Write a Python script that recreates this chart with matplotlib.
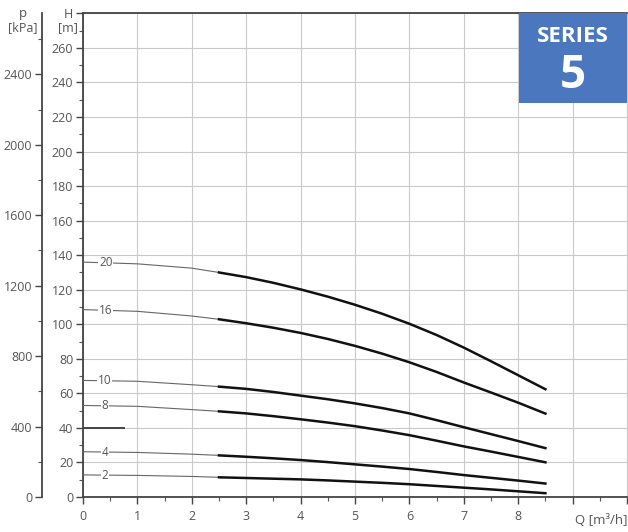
import numpy as np
import matplotlib.pyplot as plt
from matplotlib.ticker import MultipleLocator, FixedLocator
from matplotlib.patches import Rectangle

plt.rcParams['font.family'] = ['Open Sans', 'DejaVu Sans']

# flow points [m3/h] and head [m] per stage count
Q = [0, 1, 2, 2.5, 3, 3.5, 4, 4.5, 5, 5.5, 6, 6.5, 7, 7.5, 8, 8.5]
stages = ["20", "16", "10", "8", "4", "2"]
H20 = [136, 135, 132.5, 130, 127.3, 124, 120.2, 116, 111.3, 106.1, 100.3, 93.8, 86.5, 78.6, 70.5, 62.4]
H16 = [108.5, 107.5, 104.8, 102.9, 100.6, 98, 95, 91.5, 87.5, 83, 78, 72.4, 66.3, 60.5, 54.6, 48.3]
H10 = [67.5, 67, 65, 63.9, 62.6, 60.8, 58.7, 56.6, 54.2, 51.5, 48.4, 44.5, 40.4, 36.4, 32.4, 28.3]
H8 = [53, 52.5, 50.6, 49.6, 48.4, 46.8, 45, 43.1, 41, 38.5, 35.8, 32.6, 29.3, 26.3, 23.2, 20.1]
H4 = [26.2, 25.8, 24.8, 24.1, 23.3, 22.4, 21.4, 20.2, 18.9, 17.6, 16.2, 14.5, 12.7, 11.1, 9.5, 7.8]
H2 = [12.8, 12.5, 11.9, 11.4, 11.0, 10.6, 10.2, 9.6, 8.9, 8.2, 7.4, 6.4, 5.4, 4.4, 3.3, 2.2]
heads = [H20, H16, H10, H8, H4, H2]
label_q = [0.42, 0.42, 0.40, 0.40, 0.40, 0.40]

fig = plt.figure(figsize=(6.28, 5.32), dpi=100)
ax = fig.add_axes([83 / 628, 35 / 532, 544 / 628, (497 - 13.4) / 532])

ax.set_xlim(0, 10)
ax.set_ylim(0, 280)
ax.xaxis.set_major_locator(MultipleLocator(1))
ax.xaxis.set_minor_locator(MultipleLocator(0.5))
ax.yaxis.set_major_locator(MultipleLocator(20))
ax.yaxis.set_minor_locator(MultipleLocator(10))
ax.grid(True, which='major', color='#c9c9c9', lw=0.8)
ax.set_axisbelow(True)

ylabels = [str(v) if v < 280 else 'H' for v in range(0, 281, 20)]
ax.set_yticks(range(0, 281, 20))
ax.set_yticklabels(ylabels)
xlabels = [str(v) if v <= 8 else '' for v in range(0, 11)]
ax.set_xticks(range(0, 11))
ax.set_xticklabels(xlabels)

ax.tick_params(which='major', length=5, width=1, color='#444444',
               labelcolor='#555555', labelsize=9)
ax.tick_params(which='minor', length=3, width=0.8, color='#555555')
ax.tick_params(axis='y', pad=2)
ax.tick_params(axis='x', pad=4)
for s in ['left', 'bottom', 'top']:
    ax.spines[s].set_color('#444444')
    ax.spines[s].set_linewidth(1.3)
ax.spines['right'].set_color('#c9c9c9')
ax.spines['right'].set_linewidth(0.8)

# curves: thin part below 2.5 m3/h, thick part above
for name, h, lq in zip(stages, heads, label_q):
    q = np.array(Q)
    h = np.array(h)
    thin = q <= 2.5
    thick = q >= 2.5
    ax.plot(q[thin], h[thin], color='#666666', lw=0.8, zorder=3)
    ax.plot(q[thick], h[thick], color='#111111', lw=1.8, zorder=3,
            solid_joinstyle='round')
    hy = np.interp(lq, q, h)
    ax.text(lq, hy, name, ha='center', va='center', fontsize=8.5,
            color='#555555', zorder=4,
            bbox=dict(facecolor='white', edgecolor='none', pad=0.6))

ax.plot([0, 0.75], [40, 40], color='#444444', lw=1.4, zorder=3)

fig.text(68 / 628, 1 - 28 / 532, '[m]', ha='center', va='center',
         fontsize=9, color='#555555')
fig.text(575 / 628, 1 - 520 / 532, 'Q [m³/h]', ha='left', va='center',
         fontsize=9.5, color='#555555')

# pressure scale
ax2 = ax.twinx()
ax2.set_ylim(0, 280 * 9.80665)
ax2.yaxis.set_ticks_position('left')
ax2.yaxis.set_label_position('left')
ax2.spines['left'].set_position(('axes', (42 - 83) / 544))
ax2.spines['left'].set_color('#444444')
ax2.spines['left'].set_linewidth(1.3)
for s in ['right', 'top', 'bottom']:
    ax2.spines[s].set_visible(False)
ax2.yaxis.set_major_locator(FixedLocator(range(0, 2401, 400)))
ax2.yaxis.set_minor_locator(MultipleLocator(200))
ax2.tick_params(which='major', length=5, width=1, color='#444444',
                labelcolor='#555555', labelsize=9, pad=2)
ax2.tick_params(which='minor', length=3, width=0.8, color='#555555')
fig.text(23 / 628, 1 - 14 / 532, 'p', ha='center', va='center',
         fontsize=9.5, color='#555555')
fig.text(23 / 628, 1 - 28 / 532, '[kPa]', ha='center', va='center',
         fontsize=9, color='#555555')

# series badge
fig.patches.append(Rectangle((519 / 628, 1 - 103 / 532), 108 / 628, 90 / 532,
                             transform=fig.transFigure, facecolor='#4a77be',
                             edgecolor='none', zorder=5))
fig.text(573 / 628, 1 - 36 / 532, 'SERIES', ha='center', va='center',
         fontsize=16, fontweight='bold', color='white', zorder=6)
fig.text(573 / 628, 1 - 76 / 532, '5', ha='center', va='center',
         fontsize=33, fontweight='bold', color='white', zorder=6)

fig.savefig('out.png', dpi=100)
